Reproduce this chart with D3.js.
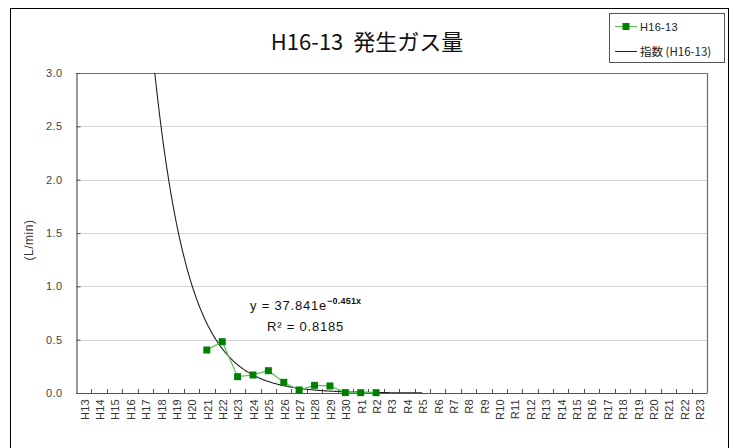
<!DOCTYPE html>
<html>
<head>
<meta charset="utf-8">
<script src="https://cdn.jsdelivr.net/npm/d3@7"></script>
<style>
  html, body { margin: 0; padding: 0; background: #fff; }
  svg { display: block; }
</style>
</head>
<body>
<svg id="chart" width="734" height="448"></svg>
<script>
// Fiscal-year categories (Heisei H13–H30, Reiwa R1–R23)
const categories = [
  "H13","H14","H15","H16","H17","H18","H19","H20","H21","H22","H23","H24",
  "H25","H26","H27","H28","H29","H30","R1","R2","R3","R4","R5","R6","R7",
  "R8","R9","R10","R11","R12","R13","R14","R15","R16","R17","R18","R19",
  "R20","R21","R22","R23"
];
// Measured gas generation (L/min) for well H16-13
const gasYears  = ["H21","H22","H23","H24","H25","H26","H27","H28","H29","H30","R1","R2"];
const gasValues = [0.403, 0.481, 0.153, 0.169, 0.209, 0.100, 0.028, 0.072, 0.066, 0.004, 0.003, 0.003];
// Exponential trendline y = a·e^(b·x), x = 1-based category number
const trendA = 37.841;
const trendB = -0.451;
const trendR2 = 0.8185;
const trendRange = ["H13", "R5"];
const yTicks = [0.0, 0.5, 1.0, 1.5, 2.0, 2.5, 3.0];

const svg = d3.select("#chart");
const plot = { left: 76, right: 707, top: 73, bottom: 393 };
const labelFont = "'Liberation Sans', Arial, sans-serif";
const jpFont = "'Noto Sans CJK JP', 'Noto Sans', sans-serif";

// chart frame
svg.append("rect")
  .attr("x", 10.5).attr("y", 8.5).attr("width", 718).attr("height", 460)
  .attr("fill", "#fff").attr("stroke", "#000").attr("stroke-width", 1);

const x = d3.scaleBand().domain(categories).range([plot.left, plot.right]).padding(0);
const y = d3.scaleLinear().domain([0, 3]).range([plot.bottom, plot.top]);
const xNum = d3.scaleLinear().domain([0.5, categories.length + 0.5]).range([plot.left, plot.right]);

// gridlines
svg.append("g")
  .selectAll("line").data(yTicks.filter(d => d > 0 && d < 3)).join("line")
  .attr("x1", plot.left).attr("x2", plot.right)
  .attr("y1", d => Math.round(y(d)) + 0.5).attr("y2", d => Math.round(y(d)) + 0.5)
  .attr("stroke", "#d4d4d4").attr("stroke-width", 1);

// plot border (top / right)
svg.append("path")
  .attr("d", `M${plot.left},${plot.top + 0.5}H${plot.right + 0.5}V${plot.bottom}`)
  .attr("fill", "none").attr("stroke", "#6e6e6e").attr("stroke-width", 1.2);

// y axis
const yAxis = d3.axisLeft(y).tickValues(yTicks).tickFormat(d3.format(".1f"))
  .tickSizeInner(-4).tickSizeOuter(0).tickPadding(14);
const gy = svg.append("g").attr("transform", `translate(${plot.left + 0.5},0)`).call(yAxis);
gy.select(".domain").attr("stroke", "#555").attr("stroke-width", 1.2);
gy.selectAll(".tick line").attr("stroke", "#555");
gy.selectAll(".tick text").attr("font-family", labelFont).attr("font-size", 11)
  .attr("letter-spacing", 0.4).attr("fill", "#444");

// x axis: ticks on category boundaries, labels centered and rotated
const boundaries = d3.range(1, categories.length);
const gx = svg.append("g");
gx.append("line")
  .attr("x1", plot.left).attr("x2", plot.right + 0.5)
  .attr("y1", plot.bottom + 0.5).attr("y2", plot.bottom + 0.5)
  .attr("stroke", "#555").attr("stroke-width", 1.2);
gx.selectAll("line.tk").data(boundaries).join("line").attr("class", "tk")
  .attr("x1", d => Math.round(xNum(d + 0.5)) + 0.5).attr("x2", d => Math.round(xNum(d + 0.5)) + 0.5)
  .attr("y1", plot.bottom).attr("y2", plot.bottom - 4)
  .attr("stroke", "#555");
gx.selectAll("text").data(categories).join("text")
  .attr("transform", d => `translate(${x(d) + x.bandwidth() / 2 + 1},${plot.bottom + 6}) rotate(-90)`)
  .attr("text-anchor", "end").attr("dy", "0.35em")
  .attr("font-family", labelFont).attr("font-size", 11).attr("letter-spacing", 0.3).attr("fill", "#333")
  .text(d => d);

// y-axis title
svg.append("text")
  .attr("transform", `translate(33,240) rotate(-90)`)
  .attr("text-anchor", "middle")
  .attr("font-family", labelFont).attr("font-size", 12).attr("letter-spacing", 0.5).attr("fill", "#333")
  .text("(L/min)");

// title
svg.append("text")
  .attr("x", 367).attr("y", 50).attr("text-anchor", "middle")
  .attr("font-family", jpFont).attr("font-size", 22).attr("fill", "#111")
  .attr("xml:space", "preserve")
  .text("H16-13  発生ガス量");

// clip to plot area
svg.append("clipPath").attr("id", "plotClip")
  .append("rect").attr("x", plot.left).attr("y", plot.top)
  .attr("width", plot.right - plot.left).attr("height", plot.bottom - plot.top);

// exponential trendline
const t0 = categories.indexOf(trendRange[0]) + 1;
const t1 = categories.indexOf(trendRange[1]) + 1;
const trendPts = d3.range(t0, t1 + 0.001, 0.05).map(v => [v, trendA * Math.exp(trendB * v)]);
svg.append("path")
  .attr("clip-path", "url(#plotClip)")
  .attr("d", d3.line().x(d => xNum(d[0])).y(d => y(d[1]))(trendPts))
  .attr("fill", "none").attr("stroke", "#222").attr("stroke-width", 1.1);

// measured series
const series = gasYears.map((c, i) => ({ c, v: gasValues[i] }));
svg.append("path")
  .attr("d", d3.line().x(d => x(d.c) + x.bandwidth() / 2).y(d => y(d.v))(series))
  .attr("fill", "none").attr("stroke", "#5cc05c").attr("stroke-width", 1.2);
svg.append("g").selectAll("rect").data(series).join("rect")
  .attr("x", d => x(d.c) + x.bandwidth() / 2 - 3.5)
  .attr("y", d => y(d.v) - 3.5)
  .attr("width", 7).attr("height", 7)
  .attr("fill", "#008000");

// trendline equation label
const eq = svg.append("text")
  .attr("x", 250).attr("y", 310)
  .attr("font-family", labelFont).attr("font-size", 13).attr("letter-spacing", 0.8)
  .attr("fill", "#111");
eq.append("tspan").text(`y = ${trendA}e`);
eq.append("tspan").attr("dy", -6).attr("font-size", 9).attr("font-weight", "bold")
  .attr("letter-spacing", 0.2)
  .text(`${trendB.toString().replace("-", "\u2212")}x`);
svg.append("text")
  .attr("x", 267).attr("y", 331)
  .attr("font-family", labelFont).attr("font-size", 13).attr("letter-spacing", 0.8)
  .attr("fill", "#111")
  .text(`R² = ${trendR2}`);

// legend
const lg = svg.append("g");
lg.append("rect").attr("x", 609.5).attr("y", 13.5).attr("width", 115).attr("height", 49)
  .attr("fill", "#fff").attr("stroke", "#555").attr("stroke-width", 1);
lg.append("line").attr("x1", 615).attr("x2", 637).attr("y1", 26.5).attr("y2", 26.5)
  .attr("stroke", "#5cc05c").attr("stroke-width", 1.2);
lg.append("rect").attr("x", 622.5).attr("y", 23).attr("width", 7).attr("height", 7).attr("fill", "#008000");
lg.append("text").attr("x", 640).attr("y", 30.5)
  .attr("font-family", labelFont).attr("font-size", 11).attr("letter-spacing", 0.3)
  .attr("fill", "#222").text("H16-13");
lg.append("line").attr("x1", 615).attr("x2", 637).attr("y1", 51.5).attr("y2", 51.5)
  .attr("stroke", "#222").attr("stroke-width", 1);
lg.append("text").attr("x", 640).attr("y", 55.5)
  .attr("font-family", jpFont).attr("font-size", 11.5).attr("fill", "#222").text("指数 (H16-13)");
</script>
</body>
</html>
